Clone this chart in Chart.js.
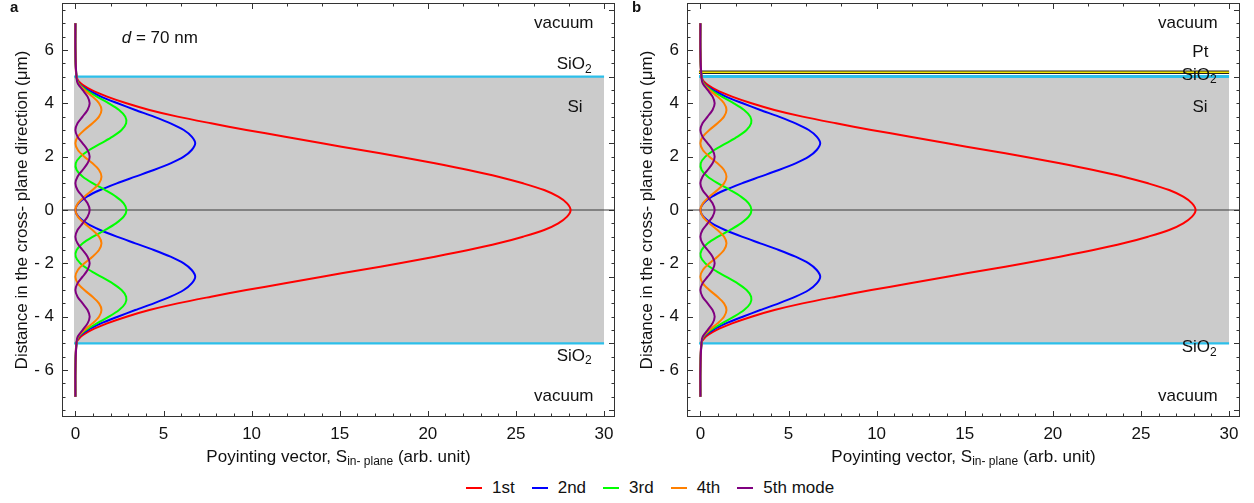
<!DOCTYPE html>
<html>
<head>
<meta charset="utf-8">
<script src="https://cdn.jsdelivr.net/npm/chart.js@4.4.1/dist/chart.umd.min.js"></script>
<style>
  html, body { margin: 0; padding: 0; background: #fff; }
  #wrap { position: relative; width: 1254px; height: 503px; overflow: hidden;
          font-family: "Liberation Sans", Arial, sans-serif; color: #111; }
  canvas { position: absolute; top: 0; }
  #chartA { left: 0; }
  #chartB { left: 625px; }
  .tag { position: absolute; top: -2px; font-weight: bold; font-size: 15px; }
  #legend { position: absolute; left: 466px; top: 478px; display: flex; gap: 17px; font-size: 17px; }
  #legend span.item { display: flex; align-items: center; }
  #legend i { display: inline-block; width: 16px; height: 1.5px; margin-right: 10px; }
</style>
</head>
<body>
<div id="wrap">
  <canvas id="chartA" width="620" height="470"></canvas>
  <canvas id="chartB" width="620" height="470"></canvas>
  <div class="tag" style="left:10px">a</div>
  <div class="tag" style="left:632px">b</div>
  <div id="legend"></div>
</div>
<script>
// depth across the slab (μm), shared by every mode profile
const depth = [-7, -6, -5, -4.75, -4.5, -4.25, -4, -3.75, -3.5, -3.25, -3, -2.75, -2.5, -2.25, -2, -1.75, -1.5, -1.25, -1, -0.75, -0.5, -0.25,
  0, 0.25, 0.5, 0.75, 1, 1.25, 1.5, 1.75, 2, 2.25, 2.5, 2.75, 3, 3.25, 3.5, 3.75, 4, 4.25, 4.5, 4.75, 5, 6, 7];

// in-plane Poynting vector (arb. unit) at each depth
const mode1 = [0, 0, 0.06, 0.3, 0.9, 1.8, 2.9, 4.2, 5.8, 7.7, 9.7, 11.9, 14.0, 16.2, 18.4, 20.4, 22.3, 24.0, 25.4, 26.6, 27.4, 27.9,
  28.1, 27.9, 27.4, 26.6, 25.4, 24.0, 22.3, 20.4, 18.4, 16.2, 14.0, 11.9, 9.7, 7.7, 5.8, 4.2, 2.9, 1.8, 0.9, 0.3, 0.06, 0, 0];
const mode2 = [0, 0, 0.06, 0.2, 0.7, 1.45, 2.4, 3.4, 4.45, 5.4, 6.15, 6.6, 6.8, 6.6, 6.15, 5.4, 4.45, 3.4, 2.35, 1.4, 0.65, 0.17,
  0, 0.17, 0.65, 1.4, 2.35, 3.4, 4.45, 5.4, 6.15, 6.6, 6.8, 6.6, 6.15, 5.4, 4.45, 3.4, 2.4, 1.45, 0.7, 0.2, 0.06, 0, 0];
const mode3 = [0, 0, 0.06, 0.18, 0.6, 1.22, 1.9, 2.48, 2.83, 2.88, 2.62, 2.11, 1.45, 0.79, 0.28, 0.02, 0.07, 0.42, 1.0, 1.68, 2.3, 2.74,
  2.9, 2.74, 2.3, 1.68, 1.0, 0.42, 0.07, 0.02, 0.28, 0.79, 1.45, 2.11, 2.62, 2.88, 2.83, 2.48, 1.9, 1.22, 0.6, 0.18, 0.06, 0, 0];
const mode4 = [0, 0, 0.06, 0.15, 0.51, 0.97, 1.34, 1.48, 1.34, 0.97, 0.51, 0.14, 0, 0.14, 0.51, 0.97, 1.34, 1.48, 1.34, 0.97, 0.51, 0.14,
  0, 0.14, 0.51, 0.97, 1.34, 1.48, 1.34, 0.97, 0.51, 0.14, 0, 0.14, 0.51, 0.97, 1.34, 1.48, 1.34, 0.97, 0.51, 0.15, 0.06, 0, 0];
const mode5 = [0, 0, 0.06, 0.13, 0.41, 0.69, 0.81, 0.69, 0.41, 0.12, 0, 0.12, 0.41, 0.69, 0.81, 0.69, 0.41, 0.12, 0, 0.12, 0.41, 0.69,
  0.81, 0.69, 0.41, 0.12, 0, 0.12, 0.41, 0.69, 0.81, 0.69, 0.41, 0.12, 0, 0.12, 0.41, 0.69, 0.81, 0.69, 0.41, 0.13, 0.06, 0, 0];

const modes = [mode1, mode2, mode3, mode4, mode5];
const modeNames = ['1st', '2nd', '3rd', '4th', '5th mode'];
const modeColors = ['#ff0000', '#0000ff', '#00ff00', '#ff8000', '#800080'];

const xTicks = [0, 5, 10, 15, 20, 25, 30];
const yTicks = [-6, -4, -2, 0, 2, 4, 6];

// layer stack: Si core between the SiO2 interfaces, Pt cap on panel b
const siTop = 5, siBottom = -5;
const ptLevel = 5.165;

const FONT = '"Liberation Sans", Arial, sans-serif';
Chart.defaults.font.family = FONT;
Chart.defaults.color = '#111';

// draw a run of text pieces, some of them subscript or italic
function drawRich(ctx, parts, x, y, align) {
  const fontFor = s => s === 'sub' ? '12px ' + FONT : s === 'it' ? 'italic 17px ' + FONT : '17px ' + FONT;
  let w = 0;
  parts.forEach(([t, s]) => { ctx.font = fontFor(s); w += ctx.measureText(t).width; });
  let cx = align === 'right' ? x - w : align === 'center' ? x - w / 2 : x;
  ctx.textBaseline = 'middle';
  ctx.textAlign = 'left';
  ctx.fillStyle = '#111';
  parts.forEach(([t, s]) => {
    ctx.font = fontFor(s);
    ctx.fillText(t, cx, s === 'sub' ? y + 5 : y);
    cx += ctx.measureText(t).width;
  });
}

function range(a, b, step) {
  const out = [];
  for (let v = a; v <= b + 1e-9; v += step) out.push(Math.round(v * 100) / 100);
  return out;
}

const framePlugin = {
  id: 'frame',
  afterDatasetsDraw(chart, args, opts) {
    const { ctx, scales: { x, y } } = chart;
    ctx.save();
    (opts.labels || []).forEach(l => {
      drawRich(ctx, l.parts, x.getPixelForValue(l.x), y.getPixelForValue(l.y), l.align);
    });
    ctx.restore();
  },
  afterDraw(chart) {
    const { ctx, chartArea: a, scales: { x, y } } = chart;
    ctx.save();
    ctx.strokeStyle = '#333';
    ctx.lineWidth = 1;
    ctx.strokeRect(a.left + 0.5, a.top + 0.5, a.right - a.left - 1, a.bottom - a.top - 1);

    const major = 6, minor = 3.5;
    ctx.beginPath();
    range(0, 30, 1).forEach(v => {
      const p = Math.round(x.getPixelForValue(v)) + 0.5;
      const len = v % 5 === 0 ? major : minor;
      ctx.moveTo(p, a.bottom); ctx.lineTo(p, a.bottom - len);
    });
    range(0, 30, 2).forEach(v => {
      const p = Math.round(x.getPixelForValue(v)) + 0.5;
      const len = v % 10 === 0 ? major : minor;
      ctx.moveTo(p, a.top); ctx.lineTo(p, a.top + len);
    });
    range(-7.5, 7.5, 0.5).forEach(v => {
      const p = Math.round(y.getPixelForValue(v)) + 0.5;
      ctx.moveTo(a.left, p); ctx.lineTo(a.left + (v % 2 === 0 ? major : minor), p);
      ctx.moveTo(a.right, p); ctx.lineTo(a.right - (v % 2.5 === 0 ? major : minor), p);
    });
    ctx.stroke();

    drawRich(ctx, [['Poyinting vector, S'], ['in- plane', 'sub'], [' (arb. unit)']],
      (a.left + a.right) / 2, 457, 'center');
    ctx.restore();
  }
};

function hline(yv, x0, x1, color, width, order) {
  return {
    data: [{ x: x0, y: yv }, { x: x1, y: yv }],
    showLine: true, borderColor: color, borderWidth: width,
    pointRadius: 0, fill: false, order
  };
}

function makePanel(id, labels, withPt) {
  const datasets = [];
  modes.forEach((vals, i) => {
    datasets.push({
      label: modeNames[i],
      data: depth.map((d, k) => ({ x: vals[k], y: d })),
      showLine: true, borderColor: modeColors[i], borderWidth: 2,
      pointRadius: 0, tension: 0.3, fill: false, order: 4 - i
    });
  });
  // Si core
  datasets.push({
    data: [{ x: -0.08, y: siTop }, { x: 30, y: siTop }],
    showLine: true, borderWidth: 0, pointRadius: 0,
    backgroundColor: '#cbcbcb', fill: { value: siBottom }, order: 20
  });
  datasets.push(hline(0, -1, 31, '#3a3a3a', 1.2, 8));
  datasets.push(hline(siTop, -0.08, 30, '#2cbfea', withPt ? 3 : 2.2, 9));
  datasets.push(hline(siBottom, -0.08, 30, '#2cbfea', 2.2, 9));
  if (withPt) {
    datasets.push(hline(ptLevel, -0.08, 30, '#222', 3.6, 7));
    datasets.push(hline(ptLevel, -0.08, 30, '#f2e600', 1.4, 6));
  }

  return new Chart(document.getElementById(id), {
    type: 'scatter',
    data: { datasets },
    plugins: [framePlugin],
    options: {
      responsive: false,
      animation: false,
      devicePixelRatio: 1,
      layout: { padding: { top: 3, right: 5, bottom: 0, left: 0 } },
      plugins: {
        legend: { display: false },
        tooltip: { enabled: false },
        frame: { labels }
      },
      scales: {
        x: {
          type: 'linear', min: -0.76, max: 30.62,
          grid: { display: false, drawTicks: false }, border: { display: false },
          afterBuildTicks: s => { s.ticks = xTicks.map(v => ({ value: v })); },
          afterFit: s => { s.height = 53; s.paddingLeft = 0; s.paddingRight = 0; },
          ticks: { padding: 7, maxRotation: 0, font: { size: 17 } }
        },
        y: {
          type: 'linear', min: -7.76, max: 7.76,
          grid: { display: false, drawTicks: false }, border: { display: false },
          afterBuildTicks: s => { s.ticks = yTicks.map(v => ({ value: v })); },
          afterFit: s => { s.width = 62; s.paddingTop = 0; s.paddingBottom = 0; },
          ticks: { padding: 8, font: { size: 17 }, callback: v => v < 0 ? '- ' + (-v) : String(v) },
          title: {
            display: true, text: 'Distance in the cross- plane direction (\u03bcm)',
            font: { size: 17 }, padding: { top: 12, bottom: 0 }
          }
        }
      }
    }
  });
}

const SIO2 = [['SiO'], ['2', 'sub']];

makePanel('chartA', [
  { parts: [['vacuum']], x: 29.4, y: 7.0, align: 'right' },
  { parts: SIO2, x: 29.3, y: 5.45, align: 'right' },
  { parts: [['Si']], x: 28.35, y: 3.86, align: 'center' },
  { parts: SIO2, x: 29.3, y: -5.47, align: 'right' },
  { parts: [['vacuum']], x: 29.4, y: -7.0, align: 'right' },
  { parts: [['d', 'it'], [' = 70 nm']], x: 2.63, y: 6.45, align: 'left' }
], false);

makePanel('chartB', [
  { parts: [['vacuum']], x: 29.35, y: 7.0, align: 'right' },
  { parts: [['Pt']], x: 28.37, y: 5.9, align: 'center' },
  { parts: SIO2, x: 29.3, y: 5.06, align: 'right' },
  { parts: [['Si']], x: 28.35, y: 3.86, align: 'center' },
  { parts: SIO2, x: 29.3, y: -5.15, align: 'right' },
  { parts: [['vacuum']], x: 29.35, y: -7.0, align: 'right' }
], true);

// shared legend under both panels
const legend = document.getElementById('legend');
modeNames.forEach((name, i) => {
  const item = document.createElement('span');
  item.className = 'item';
  item.innerHTML = '<i style="background:' + modeColors[i] + '"></i>' + name;
  legend.appendChild(item);
});
</script>
</body>
</html>
